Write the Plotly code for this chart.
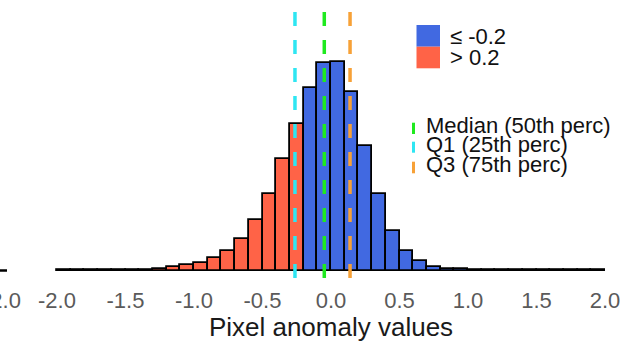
import plotly.graph_objects as go

# ---- data (percent of pixels per 0.1-wide bin) ----
bin_left = [round(-2.0 + 0.1 * i, 1) for i in range(40)]
bin_width = 0.1
pct_values = [
    0.007, 0.007, 0.010, 0.016, 0.026, 0.040, 0.065, 0.12, 0.21, 0.34,   # -2.0 .. -1.1
    0.52, 0.85, 1.27, 2.06, 3.33, 5.03, 7.29, 9.58,                      # -1.0 .. -0.3
    11.90, 13.53, 13.66, 11.67, 8.17, 5.00, 2.61, 1.27, 0.59, 0.24,      # -0.2 .. 0.7
    0.13, 0.07, 0.04, 0.02, 0.013, 0.010, 0.008, 0.007, 0.006, 0.005,    # 0.8 .. 1.7
    0.005, 0.004,                                                        # 1.8 .. 1.9
]
threshold = -0.2
quantile_names = ["Median (50th perc)", "Q1 (25th perc)", "Q3 (75th perc)"]
quantile_values = [-0.049, -0.263, 0.139]
quantile_colors = ["#1FEA1F", "#2EE6F2", "#F7A137"]
class_labels = ["≤ -0.2", "> 0.2"]
class_colors = ["#4169E1", "#FF6347"]
tick_values = [-2.0, -1.5, -1.0, -0.5, 0.0, 0.5, 1.0, 1.5, 2.0]
tick_labels = ["-2.0", "-1.5", "-1.0", "-0.5", "0.0", "0.5", "1.0", "1.5", "2.0"]
x_title = "Pixel anomaly values"

# ---- layout geometry ----
W, H = 638, 342
ML, MR, MT, MB = 24, 0, 0, 57
PW, PH = W - ML - MR, H - MT - MB


def pxx(px):
    return (px - ML) / PW


def pxy(py):
    return (H - MB - py) / PH


centers = [b + bin_width / 2 for b in bin_left]
colors = [class_colors[1] if b + bin_width <= threshold + 1e-9 else class_colors[0]
          for b in bin_left]

FONT = "Liberation Sans, Arial, sans-serif"

fig = go.Figure()
fig.add_trace(go.Bar(
    x=centers, y=pct_values, width=bin_width,
    marker=dict(color=colors, line=dict(color="black", width=1.8)),
    showlegend=False, hoverinfo="x+y",
))

shapes = []
annotations = []

# quantile dashed lines
for v, c in zip(quantile_values, quantile_colors):
    shapes.append(dict(type="line", xref="x", yref="paper", x0=v, x1=v,
                       y0=pxy(12), y1=pxy(283),
                       line=dict(color=c, width=3.5, dash="14px,14px")))

# class legend (colour squares + labels)
sq_top = [25, 46.7]
sq_bot = [46.7, 68.3]
txt_y = [37.0, 58.0]
for lab, c, t, b, ty in zip(class_labels, class_colors, sq_top, sq_bot, txt_y):
    shapes.append(dict(type="rect", xref="paper", yref="paper",
                       x0=pxx(416.5), x1=pxx(440), y0=pxy(b), y1=pxy(t),
                       fillcolor=c, line=dict(width=0)))
    annotations.append(dict(xref="paper", yref="paper", x=pxx(448), y=pxy(ty),
                            xanchor="left", yanchor="middle", showarrow=False,
                            text=lab, font=dict(family=FONT, size=22, color="#111")))

# quantile legend (short coloured ticks + labels)
mk_y = [(122.7, 134), (141.7, 152.7), (161.7, 173.3)]
lab_y = [125.0, 144.5, 164.0]
for name, c, (a, b), ly in zip(quantile_names, quantile_colors, mk_y, lab_y):
    shapes.append(dict(type="line", xref="paper", yref="paper",
                       x0=pxx(413.5), x1=pxx(413.5), y0=pxy(a), y1=pxy(b),
                       line=dict(color=c, width=3)))
    annotations.append(dict(xref="paper", yref="paper", x=pxx(424), y=pxy(ly),
                            xanchor="left", yanchor="middle", showarrow=False,
                            text=name, font=dict(family=FONT, size=22, color="#111")))

# fragment of the neighbouring panel at the left edge
annotations.append(dict(xref="paper", yref="paper", x=pxx(23), y=pxy(300),
                        xanchor="right", yanchor="middle", showarrow=False,
                        text="-2.0", font=dict(family=FONT, size=22, color="#5a5a5a")))
shapes.append(dict(type="line", xref="paper", yref="paper",
                   x0=pxx(0), x1=pxx(7), y0=pxy(270.5), y1=pxy(270.5),
                   line=dict(color="black", width=2.5)))

px_per_unit = 137.0
x0_px = 331.0
px_per_pct = 15.3
y0_px = 270.5

fig.update_layout(
    width=W, height=H,
    margin=dict(l=ML, r=MR, t=MT, b=MB, pad=0),
    paper_bgcolor="white", plot_bgcolor="white",
    bargap=0,
    shapes=shapes, annotations=annotations,
    xaxis=dict(
        range=[(ML - x0_px) / px_per_unit, (W - MR - x0_px) / px_per_unit],
        tickmode="array", tickvals=tick_values, ticktext=tick_labels,
        ticks="", showgrid=False, zeroline=False, showline=False,
        tickfont=dict(family=FONT, size=22, color="#5a5a5a"),
        ticklabelstandoff=0,
        title=dict(text=x_title, font=dict(family=FONT, size=26, color="#1a1a1a"),
                   standoff=2),
    ),
    yaxis=dict(
        range=[(y0_px - (H - MB)) / px_per_pct, y0_px / px_per_pct],
        visible=False, showgrid=False, zeroline=False,
    ),
    showlegend=False,
)

fig.write_html("out.html",
               config={"displayModeBar": False},
               post_script="document.body.style.margin='0';document.body.style.overflow='hidden';")
